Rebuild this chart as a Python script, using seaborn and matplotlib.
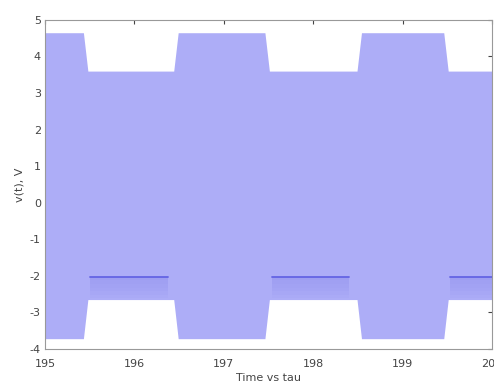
import numpy as np
import pandas as pd
import matplotlib
matplotlib.use('Agg')
import matplotlib.pyplot as plt
import seaborn as sns

# Envelope of the dense oscillation
t_env = [195.0, 195.43, 195.48, 196.44, 196.49, 197.46, 197.51, 198.49, 198.54, 199.46, 199.51, 200.0]
v_top = [4.65, 4.65, 3.60, 3.60, 4.65, 4.65, 3.60, 3.60, 4.65, 4.65, 3.60, 3.60]
v_bot = [-3.72, -3.72, -2.65, -2.65, -3.72, -3.72, -2.65, -2.65, -3.72, -3.72, -2.65, -2.65]

# Dense dark trace at about -2 V during the low states
seg_start = [195.50, 197.54, 199.53]
seg_end = [196.38, 198.40, 200.0]
seg_level = [-2.02, -2.02, -2.02]

x_ticks = [195, 196, 197, 198, 199, 200]
y_ticks = [-4, -3, -2, -1, 0, 1, 2, 3, 4, 5]

sns.set_style('white')
plt.rcParams['font.family'] = ['DejaVu Sans']
plt.rcParams['axes.unicode_minus'] = False

fig = plt.figure(figsize=(4.94, 3.83), dpi=100)
ax = fig.add_axes([0.091, 0.089, 0.905, 0.859])

ax.fill_between(t_env, v_bot, v_top, color='#adadf7', linewidth=0)

# soft darker shading just under the -2 V trace
for s, e, lv in zip(seg_start, seg_end, seg_level):
    for k in range(6):
        ax.fill_between([s, e], [lv - 0.1 * (k + 1)] * 2, [lv] * 2,
                        color='#8c8cee', alpha=0.08, linewidth=0)

segs = pd.DataFrame({
    't': [v for s, e in zip(seg_start, seg_end) for v in (s, e)],
    'v': [v for lv in seg_level for v in (lv, lv)],
    'seg': [i for i in range(len(seg_start)) for _ in (0, 1)],
})
sns.lineplot(data=segs, x='t', y='v', units='seg', estimator=None,
             color='#6464e4', linewidth=1.3, ax=ax)

ax.set_xlim(195, 200)
ax.set_ylim(-4, 5)
ax.set_xticks(x_ticks)
ax.set_yticks(y_ticks)
ax.tick_params(direction='in', top=True, right=True, length=3, labelsize=8,
               colors='#444444')
ax.tick_params(axis='x', pad=7)
ax.tick_params(axis='y', pad=3)
for sp in ax.spines.values():
    sp.set_color('#999999')
    sp.set_linewidth(0.8)

ax.set_xlabel('Time vs tau', fontsize=8, color='#444444', labelpad=3)
ax.set_ylabel('v(t), V', fontsize=8, color='#444444', labelpad=4)

fig.savefig('out.png', dpi=100)
